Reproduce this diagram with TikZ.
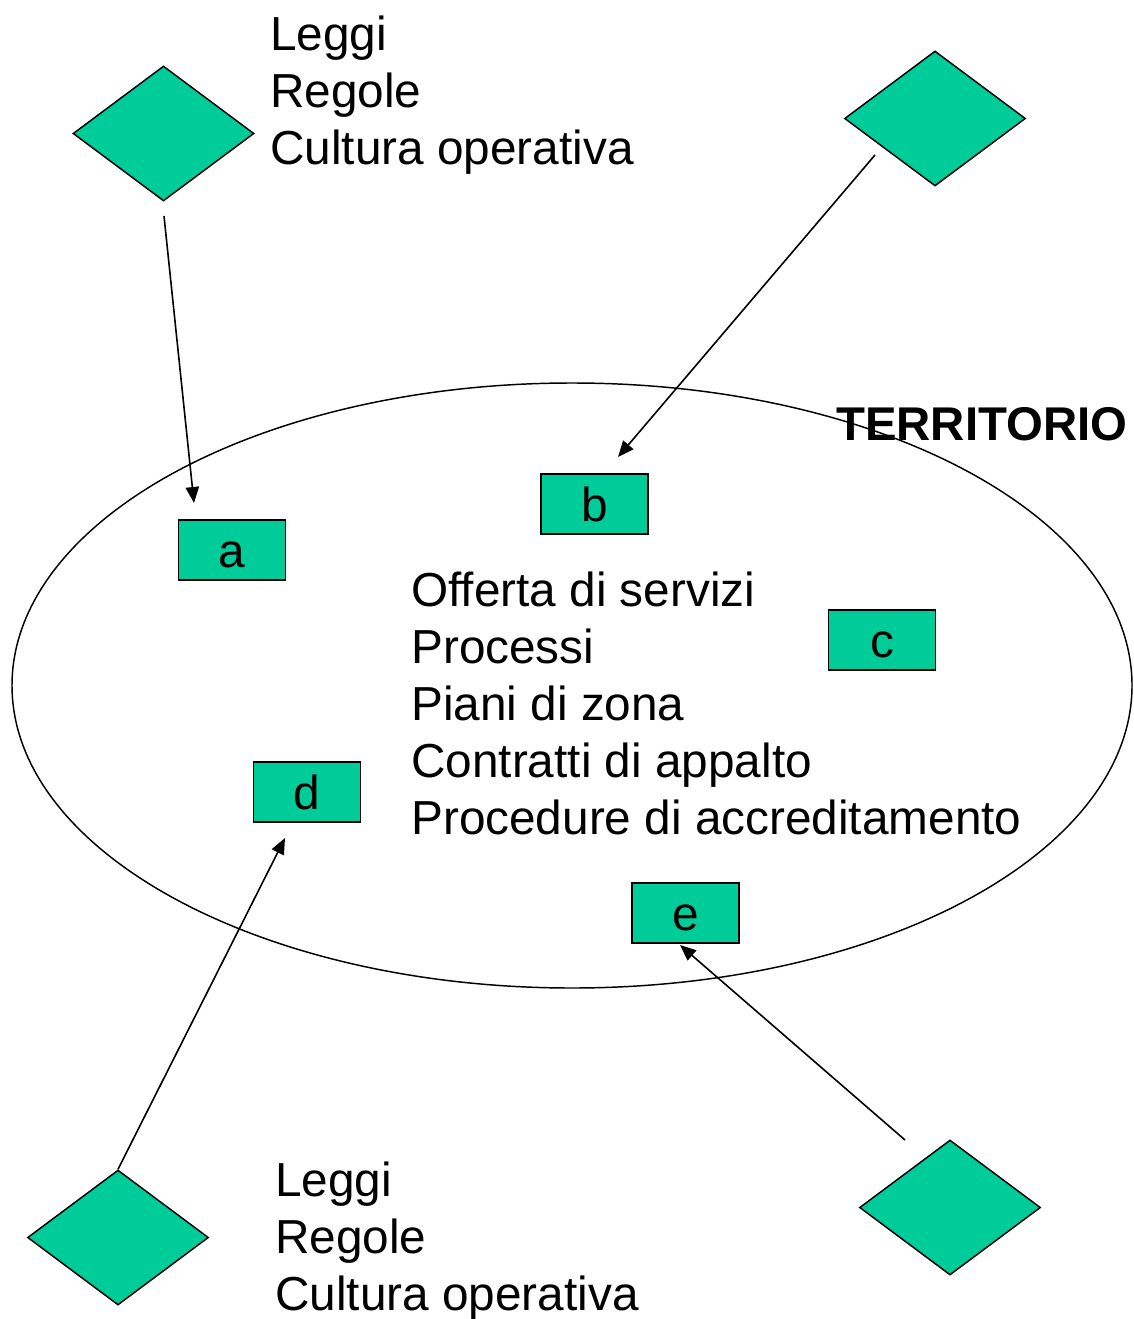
\documentclass[tikz,border=0pt]{standalone}
\usepackage{fontspec}
\setmainfont{Liberation Sans}
\usetikzlibrary{shapes.geometric,arrows.meta}
\definecolor{teal1}{HTML}{00CC99}
\begin{document}
\begin{tikzpicture}[x=0.75pt,y=-0.75pt,
  dia/.style={diamond,draw=black,fill=teal1,line width=1.1pt,inner sep=0pt,minimum width=135.75pt,minimum height=101.25pt,aspect=1.34},
  bx/.style={draw=black,fill=teal1,line width=1.1pt,inner sep=0pt,minimum width=80pt,minimum height=45pt,text height=26.5pt,text depth=0pt,font=\fontsize{35.8pt}{42.75pt}\selectfont},
  txt/.style={anchor=base west,inner sep=0pt,font=\fontsize{35.8pt}{42.75pt}\selectfont},
  arr/.style={line width=1.2pt,-{Triangle[length=12pt,width=10pt]}}]
\useasboundingbox (0,0) rectangle (1133,1319);
\node[draw=black,line width=1.1pt,ellipse,minimum width=840pt,minimum height=453.75pt,inner sep=0pt] (terr) at (572,685.5) {};
\node[txt,font=\bfseries\fontsize{35.5pt}{42pt}\selectfont] (tl) at (836,440) {TERRITORIO};
% diamonds
\node[dia] (d1) at (163.5,133.5) {};
\node[dia] (d2) at (935,118.5) {};
\node[dia] (d3) at (118,1237.5) {};
\node[dia] (d4) at (950,1207.5) {};
% boxes
\node[bx] (a) at (232,550) {a};
\node[bx] (b) at (594.5,504) {b};
\node[bx] (c) at (882,640) {c};
\node[bx] (d) at (307,792) {d};
\node[bx] (e) at (685.5,913) {e};
% texts
\node[txt] (t1) at (270,51) {Leggi};
\node[txt] (t2) at (270,108) {Regole};
\node[txt] (t3) at (270,165) {Cultura operativa};
\node[txt] (u1) at (275,1196) {Leggi};
\node[txt] (u2) at (275,1253) {Regole};
\node[txt] (u3) at (275,1310) {Cultura operativa};
\node[txt] (m1) at (411,606) {Offerta di servizi};
\node[txt] (m2) at (411,663) {Processi};
\node[txt] (m3) at (411,720) {Piani di zona};
\node[txt] (m4) at (411,777) {Contratti di appalto};
\node[txt] (m5) at (411,834) {Procedure di accreditamento};
% arrows
\coordinate (s1) at (164,216);
\coordinate (e1) at (194,503);
\coordinate (s2) at (875,155);
\coordinate (e2) at (618,457);
\coordinate (e3) at (285,838);
\coordinate (s4) at (905,1140);
\coordinate (e4) at (680,945);
\draw[arr] (s1) -- (e1);
\draw[arr] (s2) -- (e2);
\draw[arr] (d3.north) -- (e3);
\draw[arr] (s4) -- (e4);
\end{tikzpicture}
\end{document}
